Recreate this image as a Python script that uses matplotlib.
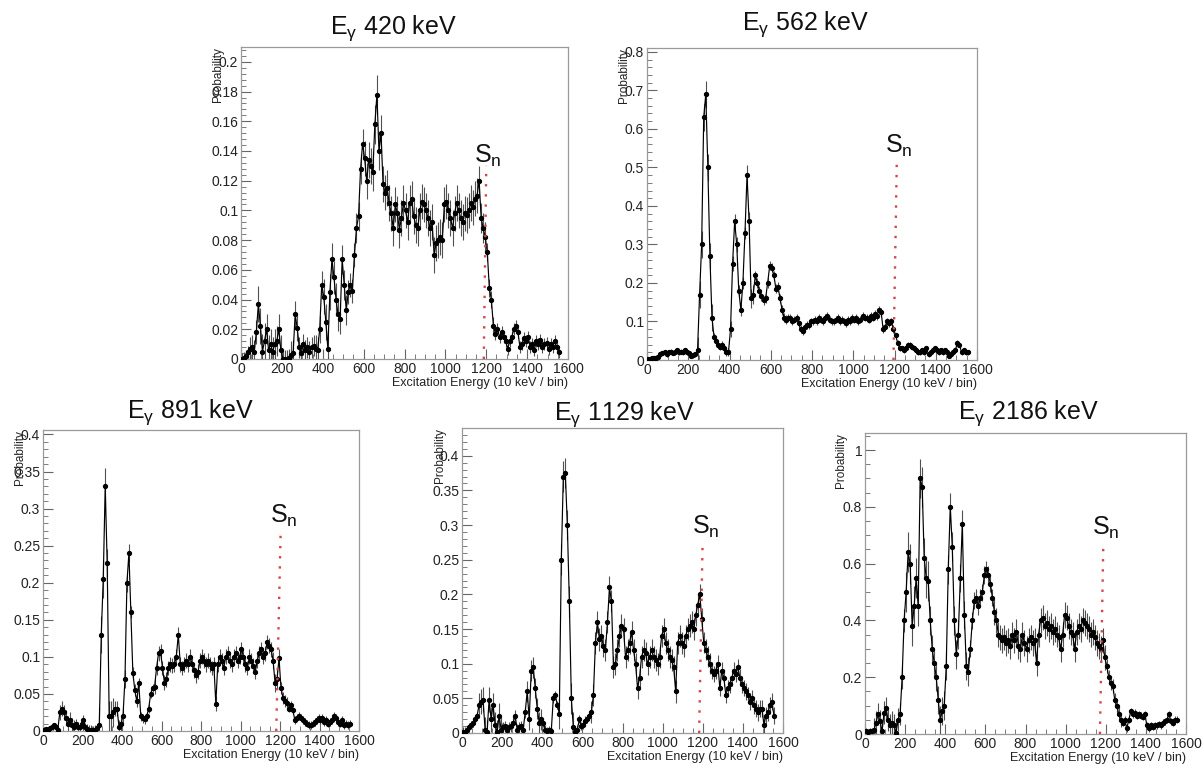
import numpy as np
import matplotlib
matplotlib.use("Agg")
import matplotlib.pyplot as plt
from matplotlib.ticker import MultipleLocator, AutoMinorLocator, FuncFormatter

plt.rcParams['font.family'] = ['Liberation Sans', 'DejaVu Sans']
plt.rcParams['mathtext.fontset'] = 'custom'
plt.rcParams['mathtext.rm'] = 'Liberation Sans'
plt.rcParams['mathtext.it'] = 'Liberation Sans:italic'

# ---------------- data ----------------
bin_centers = list(range(5, 1560, 10))   # excitation-energy bins (10 keV / bin)

titles = ["420", "562", "891", "1129", "2186"]

y420 = [0.0, 0.001, 0.002, 0.005, 0.007, 0.008, 0.005, 0.018, 0.037, 0.022,
        0.005, 0.012, 0.02, 0.006, 0.01, 0.005, 0.01, 0.012, 0.02, 0.006,
        0.0, 0.0, 0.0, 0.001, 0.003, 0.004, 0.03, 0.021, 0.008, 0.004,
        0.01, 0.006, 0.008, 0.005, 0.008, 0.009, 0.007, 0.006, 0.02, 0.05,
        0.042, 0.025, 0.007, 0.045, 0.067, 0.055, 0.04, 0.03, 0.027, 0.067,
        0.05, 0.033, 0.045, 0.05, 0.046, 0.07, 0.088, 0.096, 0.128, 0.145,
        0.135, 0.12, 0.134, 0.13, 0.126, 0.158, 0.178, 0.14, 0.152, 0.118,
        0.112, 0.115, 0.105, 0.098, 0.088, 0.104, 0.098, 0.087, 0.095, 0.105,
        0.1, 0.092, 0.105, 0.108, 0.096, 0.09, 0.088, 0.1, 0.106, 0.104,
        0.1, 0.095, 0.088, 0.092, 0.07, 0.078, 0.08, 0.082, 0.08, 0.104,
        0.106, 0.1, 0.095, 0.088, 0.098, 0.105, 0.1, 0.095, 0.092, 0.098,
        0.097, 0.1, 0.105, 0.102, 0.108, 0.11, 0.12, 0.095, 0.088, 0.082,
        0.072, 0.048, 0.04, 0.022, 0.017, 0.02, 0.015, 0.018, 0.015, 0.012,
        0.007, 0.012, 0.015, 0.02, 0.022, 0.018, 0.008, 0.01, 0.014, 0.012,
        0.015, 0.008, 0.01, 0.006, 0.012, 0.01, 0.013, 0.008, 0.01, 0.011,
        0.007, 0.01, 0.008, 0.012, 0.008, 0.005]

y562 = [0.003, 0.003, 0.004, 0.005, 0.006, 0.008, 0.015, 0.018, 0.02, 0.015,
        0.02, 0.022, 0.018, 0.02, 0.025, 0.02, 0.022, 0.02, 0.025, 0.02,
        0.018, 0.01, 0.012, 0.015, 0.025, 0.17, 0.3, 0.63, 0.69, 0.5,
        0.27, 0.11, 0.06, 0.05, 0.04, 0.035, 0.04, 0.03, 0.02, 0.02,
        0.08, 0.25, 0.36, 0.3, 0.18, 0.13, 0.2, 0.33, 0.48, 0.36,
        0.16, 0.17, 0.22, 0.2, 0.18, 0.165, 0.155, 0.16, 0.2, 0.245,
        0.24, 0.22, 0.185, 0.19, 0.16, 0.13, 0.11, 0.105, 0.11, 0.11,
        0.1, 0.105, 0.11, 0.095, 0.08, 0.075, 0.085, 0.09, 0.09, 0.1,
        0.1, 0.105, 0.1, 0.11, 0.105, 0.1, 0.11, 0.115, 0.105, 0.1,
        0.1, 0.105, 0.11, 0.1, 0.105, 0.1, 0.095, 0.105, 0.1, 0.11,
        0.105, 0.11, 0.1, 0.105, 0.115, 0.11, 0.11, 0.105, 0.115, 0.11,
        0.12, 0.115, 0.13, 0.125, 0.08, 0.085, 0.1, 0.095, 0.1, 0.08,
        0.065, 0.045, 0.03, 0.03, 0.025, 0.03, 0.04, 0.04, 0.035, 0.03,
        0.025, 0.02, 0.02, 0.025, 0.02, 0.03, 0.015, 0.02, 0.025, 0.03,
        0.025, 0.02, 0.025, 0.02, 0.025, 0.02, 0.01, 0.015, 0.02, 0.025,
        0.045, 0.04, 0.02, 0.025, 0.02, 0.02]

y891 = [0.002, 0.003, 0.002, 0.004, 0.006, 0.008, 0.005, 0.002, 0.025, 0.03,
        0.025, 0.018, 0.01, 0.015, 0.008, 0.005, 0.01, 0.006, 0.005, 0.01,
        0.015, 0.005, 0.003, 0.002, 0.002, 0.001, 0.002, 0.004, 0.008, 0.13,
        0.205, 0.33, 0.226, 0.02, 0.02, 0.025, 0.03, 0.03, 0.005, 0.01,
        0.02, 0.07, 0.2, 0.24, 0.16, 0.078, 0.055, 0.04, 0.065, 0.02,
        0.017, 0.016, 0.02, 0.03, 0.05, 0.058, 0.06, 0.085, 0.105, 0.108,
        0.085, 0.065, 0.07, 0.085, 0.09, 0.088, 0.09, 0.1, 0.13, 0.09,
        0.085, 0.09, 0.095, 0.09, 0.1, 0.09, 0.082, 0.075, 0.08, 0.095,
        0.1, 0.095, 0.09, 0.095, 0.09, 0.085, 0.09, 0.037, 0.09, 0.1,
        0.095, 0.085, 0.1, 0.105, 0.095, 0.09, 0.1, 0.105, 0.095, 0.1,
        0.11, 0.1, 0.09, 0.085, 0.1, 0.095, 0.088, 0.08, 0.095, 0.105,
        0.11, 0.1, 0.105, 0.12, 0.115, 0.11, 0.095, 0.065, 0.07, 0.098,
        0.058, 0.045, 0.04, 0.038, 0.03, 0.035, 0.028, 0.015, 0.018, 0.02,
        0.018, 0.015, 0.012, 0.01, 0.008, 0.008, 0.01, 0.012, 0.015, 0.018,
        0.015, 0.018, 0.012, 0.015, 0.01, 0.012, 0.015, 0.02, 0.018, 0.012,
        0.01, 0.015, 0.008, 0.01, 0.008, 0.01]

y1129 = [0.002, 0.002, 0.004, 0.008, 0.012, 0.015, 0.02, 0.025, 0.04, 0.045,
         0.048, 0.005, 0.001, 0.048, 0.02, 0.04, 0.012, 0.001, 0.025, 0.005,
         0.008, 0.01, 0.005, 0.008, 0.01, 0.015, 0.025, 0.005, 0.008, 0.01,
         0.005, 0.03, 0.06, 0.02, 0.09, 0.095, 0.065, 0.035, 0.015, 0.02,
         0.015, 0.005, 0.003, 0.004, 0.003, 0.05, 0.055, 0.04, 0.028, 0.25,
         0.37, 0.375, 0.3, 0.19, 0.05, 0.008, 0.002, 0.005, 0.02, 0.01,
         0.012, 0.018, 0.02, 0.025, 0.03, 0.055, 0.13, 0.16, 0.135, 0.14,
         0.125, 0.12, 0.16, 0.21, 0.19, 0.095, 0.1, 0.12, 0.14, 0.155,
         0.15, 0.11, 0.12, 0.13, 0.145, 0.12, 0.1, 0.065, 0.08, 0.11,
         0.12, 0.115, 0.1, 0.11, 0.12, 0.11, 0.105, 0.1, 0.11, 0.14,
         0.15, 0.13, 0.12, 0.11, 0.105, 0.095, 0.06, 0.13, 0.14, 0.13,
         0.125, 0.14, 0.15, 0.155, 0.16, 0.15, 0.17, 0.185, 0.2, 0.165,
         0.13, 0.12, 0.11, 0.1, 0.09, 0.085, 0.09, 0.1, 0.065, 0.09,
         0.08, 0.055, 0.065, 0.07, 0.08, 0.09, 0.085, 0.095, 0.08, 0.07,
         0.065, 0.06, 0.055, 0.045, 0.05, 0.04, 0.035, 0.03, 0.035, 0.035,
         0.012, 0.025, 0.03, 0.04, 0.045, 0.025]

y2186 = [0.01, 0.008, 0.012, 0.01, 0.015, 0.04, 0.07, 0.045, 0.01, 0.075,
         0.09, 0.05, 0.03, 0.04, 0.03, 0.005, 0.05, 0.07, 0.2, 0.4,
         0.5, 0.64, 0.6, 0.38, 0.45, 0.55, 0.45, 0.9, 0.87, 0.62,
         0.55, 0.54, 0.4, 0.3, 0.25, 0.2, 0.12, 0.05, 0.08, 0.1,
         0.24, 0.58, 0.8, 0.66, 0.4, 0.28, 0.35, 0.55, 0.74, 0.42,
         0.24, 0.22, 0.3, 0.4, 0.47, 0.48, 0.45, 0.48, 0.5, 0.56,
         0.58, 0.56, 0.53, 0.48, 0.43, 0.4, 0.35, 0.34, 0.33, 0.34,
         0.32, 0.33, 0.31, 0.35, 0.33, 0.36, 0.31, 0.3, 0.35, 0.32,
         0.3, 0.33, 0.34, 0.32, 0.33, 0.25, 0.35, 0.4, 0.41, 0.38,
         0.39, 0.37, 0.38, 0.36, 0.37, 0.35, 0.34, 0.3, 0.35, 0.42,
         0.41, 0.38, 0.36, 0.35, 0.3, 0.36, 0.38, 0.37, 0.4, 0.39,
         0.38, 0.37, 0.35, 0.36, 0.34, 0.32, 0.31, 0.3, 0.33, 0.27,
         0.24, 0.2, 0.18, 0.17, 0.12, 0.1, 0.07, 0.05, 0.04, 0.05,
         0.02, 0.05, 0.08, 0.07, 0.075, 0.065, 0.07, 0.065, 0.06, 0.07,
         0.03, 0.02, 0.03, 0.025, 0.03, 0.03, 0.035, 0.03, 0.04, 0.045,
         0.05, 0.07, 0.045, 0.04, 0.05, 0.05]

# statistical errors, one value per block of 4 bins (40 units)
e420 = [0.004, 0.008, 0.012, 0.010, 0.010, 0.006, 0.009, 0.007, 0.007, 0.009,
        0.012, 0.011, 0.010, 0.008, 0.010, 0.012, 0.013, 0.012, 0.012, 0.012,
        0.012, 0.012, 0.012, 0.012, 0.012, 0.012, 0.012, 0.012, 0.012, 0.010,
        0.006, 0.004, 0.004, 0.004, 0.004, 0.004, 0.004, 0.004, 0.004]
e562 = [0.006, 0.006, 0.006, 0.006, 0.006, 0.006, 0.035, 0.035, 0.010, 0.010,
        0.020, 0.015, 0.025, 0.012, 0.012, 0.012, 0.012, 0.010, 0.010, 0.010,
        0.010, 0.010, 0.010, 0.010, 0.010, 0.010, 0.010, 0.010, 0.010, 0.010,
        0.006, 0.006, 0.006, 0.006, 0.006, 0.006, 0.006, 0.006, 0.006]
e891 = [0.003, 0.003, 0.010, 0.010, 0.006, 0.006, 0.006, 0.025, 0.020, 0.010,
        0.012, 0.008, 0.006, 0.006, 0.010, 0.010, 0.010, 0.010, 0.010, 0.010,
        0.010, 0.010, 0.010, 0.010, 0.010, 0.010, 0.010, 0.010, 0.010, 0.012,
        0.008, 0.005, 0.005, 0.005, 0.005, 0.005, 0.005, 0.005, 0.005]
e1129 = [0.006, 0.006, 0.018, 0.018, 0.018, 0.008, 0.008, 0.008, 0.015, 0.015,
         0.006, 0.006, 0.022, 0.022, 0.006, 0.006, 0.016, 0.016, 0.016, 0.016,
         0.016, 0.016, 0.016, 0.016, 0.016, 0.016, 0.016, 0.016, 0.016, 0.015,
         0.015, 0.012, 0.012, 0.012, 0.012, 0.012, 0.012, 0.012, 0.012]
e2186 = [0.010, 0.040, 0.040, 0.040, 0.040, 0.070, 0.070, 0.070, 0.050, 0.050,
         0.050, 0.050, 0.050, 0.030, 0.030, 0.030, 0.045, 0.045, 0.045, 0.045,
         0.045, 0.045, 0.045, 0.045, 0.045, 0.045, 0.045, 0.045, 0.045, 0.045,
         0.025, 0.025, 0.012, 0.012, 0.012, 0.012, 0.012, 0.012, 0.012]

# neutron separation energy marker (bottom x, top x, top y)
sn_x0 = [1188, 1195, 1181, 1182, 1171]
sn_x1 = [1200, 1211, 1203, 1199, 1188]
sn_top = [0.13, 0.51, 0.266, 0.272, 0.677]

series = [y420, y562, y891, y1129, y2186]
errors = [e420, e562, e891, e1129, e2186]

# ---------------- layout (pixels) ----------------
W, H = 1203, 773
boxes = [(241, 47, 568, 359), (647, 48, 977, 360),
         (43, 430, 359, 731), (462, 428, 783, 733), (865, 433, 1186, 734)]
ymaxes = [0.21, 0.81, 0.406, 0.44, 1.06]
ysteps = [0.02, 0.1, 0.05, 0.05, 0.2]
ysubs = [5, 5, 5, 5, 4]
title_pos = [(393, 34), (805, 30), (190, 418), (624, 420), (1028, 419)]
sn_pos = [(474, 163), (885, 153), (270, 523), (692, 534), (1092, 535)]
ylab_off = [23, 23, 23, 22, 24]

fig = plt.figure(figsize=(W / 100, H / 100), dpi=100)
fmt = FuncFormatter(lambda v, p: f"{v:g}")

for i in range(5):
    l, t, r, b = boxes[i]
    ax = fig.add_axes([l / W, 1 - b / H, (r - l) / W, (b - t) / H])
    x = np.array(bin_centers)
    y = np.array(series[i])
    e = np.repeat(np.array(errors[i]), 4)[:len(x)]
    ax.errorbar(x, y, yerr=e, fmt='-o', color='black', ms=2.8, lw=0.85,
                ecolor='#505050', elinewidth=0.8, capsize=0, zorder=3)
    ax.plot([sn_x0[i], sn_x1[i]], [0, sn_top[i]], color='#d04848', lw=1.7,
            ls=(0, (1, 3.3)), zorder=4)
    ax.set_xlim(0, 1600)
    ax.set_ylim(0, ymaxes[i])
    ax.xaxis.set_major_locator(MultipleLocator(200))
    ax.xaxis.set_minor_locator(MultipleLocator(50))
    ax.yaxis.set_major_locator(MultipleLocator(ysteps[i]))
    ax.yaxis.set_minor_locator(AutoMinorLocator(ysubs[i]))
    ax.xaxis.set_major_formatter(fmt)
    ax.yaxis.set_major_formatter(fmt)
    ax.tick_params(which='both', direction='in', top=False, right=False,
                   colors='#666666', labelcolor='#222222', labelsize=10)
    ax.tick_params(which='major', length=7, width=0.8)
    ax.tick_params(which='minor', length=3.5, width=0.6)
    ax.tick_params(axis='x', pad=2.5)
    ax.tick_params(axis='y', pad=2)
    for s in ax.spines.values():
        s.set_color('#9a9a9a')
        s.set_linewidth(0.9)
    ax.set_xlabel('Excitation Energy (10 keV / bin)', loc='right', fontsize=9,
                  labelpad=0.5, color='#222222')
    ax.text(-ylab_off[i] / (r - l), 1.0, 'Probability', rotation=90,
            ha='center', va='top', transform=ax.transAxes, fontsize=8.5,
            color='#222222')
    tx, ty = title_pos[i]
    fig.text(tx / W, 1 - ty / H, r'E$_{\mathregular{\gamma}}$ ' + titles[i] + ' keV',
             ha='center', va='baseline', fontsize=18, color='#111111')
    sx, sy = sn_pos[i]
    fig.text(sx / W, 1 - sy / H, r'S$_{\mathregular{n}}$', ha='left',
             va='baseline', fontsize=18, color='#111111')

fig.savefig('out.png', dpi=100, facecolor='white')
